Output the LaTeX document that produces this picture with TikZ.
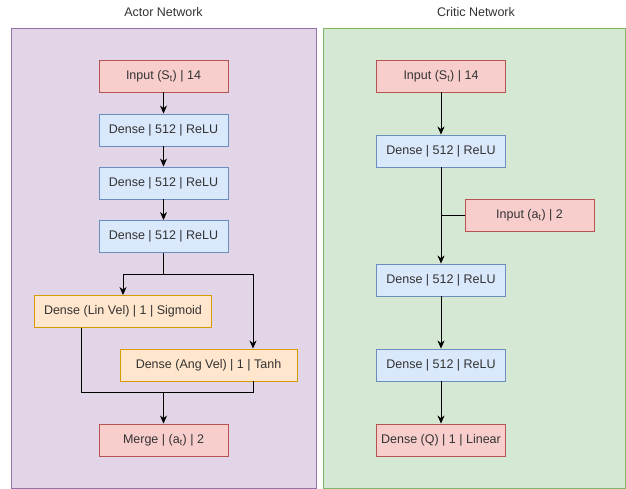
\documentclass[tikz,border=0pt]{standalone}
\usepackage{fontspec}
\setmainfont{Liberation Sans}
\usetikzlibrary{arrows.meta}
\definecolor{redF}{HTML}{F8CECC}
\definecolor{redS}{HTML}{B85450}
\definecolor{bluF}{HTML}{DAE8FC}
\definecolor{bluS}{HTML}{6C8EBF}
\definecolor{orgF}{HTML}{FFE6CC}
\definecolor{orgS}{HTML}{D79B00}
\definecolor{purF}{HTML}{E1D5E7}
\definecolor{purS}{HTML}{9673A6}
\definecolor{grnF}{HTML}{D5E8D4}
\definecolor{grnS}{HTML}{82B366}
\definecolor{txt}{HTML}{333333}
\tikzset{
  box/.style={draw, line width=0.9pt, inner sep=0pt, minimum height=32pt, text=txt, font=\fontsize{12.5}{14}\selectfont},
  redbox/.style={box, fill=redF, draw=redS, minimum width=129pt},
  blubox/.style={box, fill=bluF, draw=bluS, minimum width=129pt},
  orgbox/.style={box, fill=orgF, draw=orgS, minimum width=177pt},
  panel/.style={inner sep=0pt, line width=0.9pt},
  title/.style={text=txt, font=\fontsize{12.5}{14}\selectfont},
  conn/.style={line width=0.9pt, black},
  arr/.style={conn, -{Stealth[length=8pt,width=7pt,inset=2.5pt]}}
}
\begin{document}
\begin{tikzpicture}[x=1pt,y=-1pt]
\useasboundingbox (0,0) rectangle (626,489);
% panels
\node[panel, fill=purF, draw=purS, minimum width=305pt, minimum height=460pt] (actorpanel) at (163.5,258) {};
\node[panel, fill=grnF, draw=grnS, minimum width=302pt, minimum height=460pt] (criticpanel) at (474,258) {};
\node[title] (actortitle) at (163.5,12) {Actor Network};
\node[title] (critictitle) at (476,12) {Critic Network};
% actor
\node[redbox] (ain) at (163.5,76) {Input (S\textsubscript{t}) | 14};
\node[blubox] (ad1) at (163.5,130) {Dense | 512 | ReLU};
\node[blubox] (ad2) at (163.5,183) {Dense | 512 | ReLU};
\node[blubox] (ad3) at (163.5,236.5) {Dense | 512 | ReLU};
\node[orgbox] (alin) at (123,311.5) {Dense (Lin Vel) | 1 | Sigmoid};
\node[orgbox] (aang) at (208.5,365) {Dense (Ang Vel) | 1 | Tanh};
\node[redbox] (amerge) at (163.5,440) {Merge | (a\textsubscript{t}) | 2};
\coordinate (split) at (163.5,274);
\coordinate (join) at (163.5,392);
\draw[arr] (ain) -- (ad1);
\draw[arr] (ad1) -- (ad2);
\draw[arr] (ad2) -- (ad3);
\draw[conn] (ad3) -- (split);
\draw[arr] (split) -| (alin.north);
\draw[arr] (split) -| (aang.north -| 253,0);
\draw[conn] (alin.south -| 81,0) |- (join);
\draw[conn] (aang.south -| 253,0) |- (join);
\draw[arr] (join) -- (amerge);
% critic
\node[redbox] (cin) at (441,76) {Input (S\textsubscript{t}) | 14};
\node[blubox] (cd1) at (441,151) {Dense | 512 | ReLU};
\node[redbox] (cat) at (529.5,215) {Input (a\textsubscript{t}) | 2};
\node[blubox] (cd2) at (441,280) {Dense | 512 | ReLU};
\node[blubox] (cd3) at (441,365) {Dense | 512 | ReLU};
\node[redbox] (cq) at (441,440) {Dense (Q) | 1 | Linear};
\coordinate (cjoin) at (441,215);
\draw[arr] (cin) -- (cd1);
\draw[arr] (cd1) -- (cd2);
\draw[conn] (cat) -- (cjoin);
\draw[arr] (cd2) -- (cd3);
\draw[arr] (cd3) -- (cq);
\end{tikzpicture}
\end{document}
